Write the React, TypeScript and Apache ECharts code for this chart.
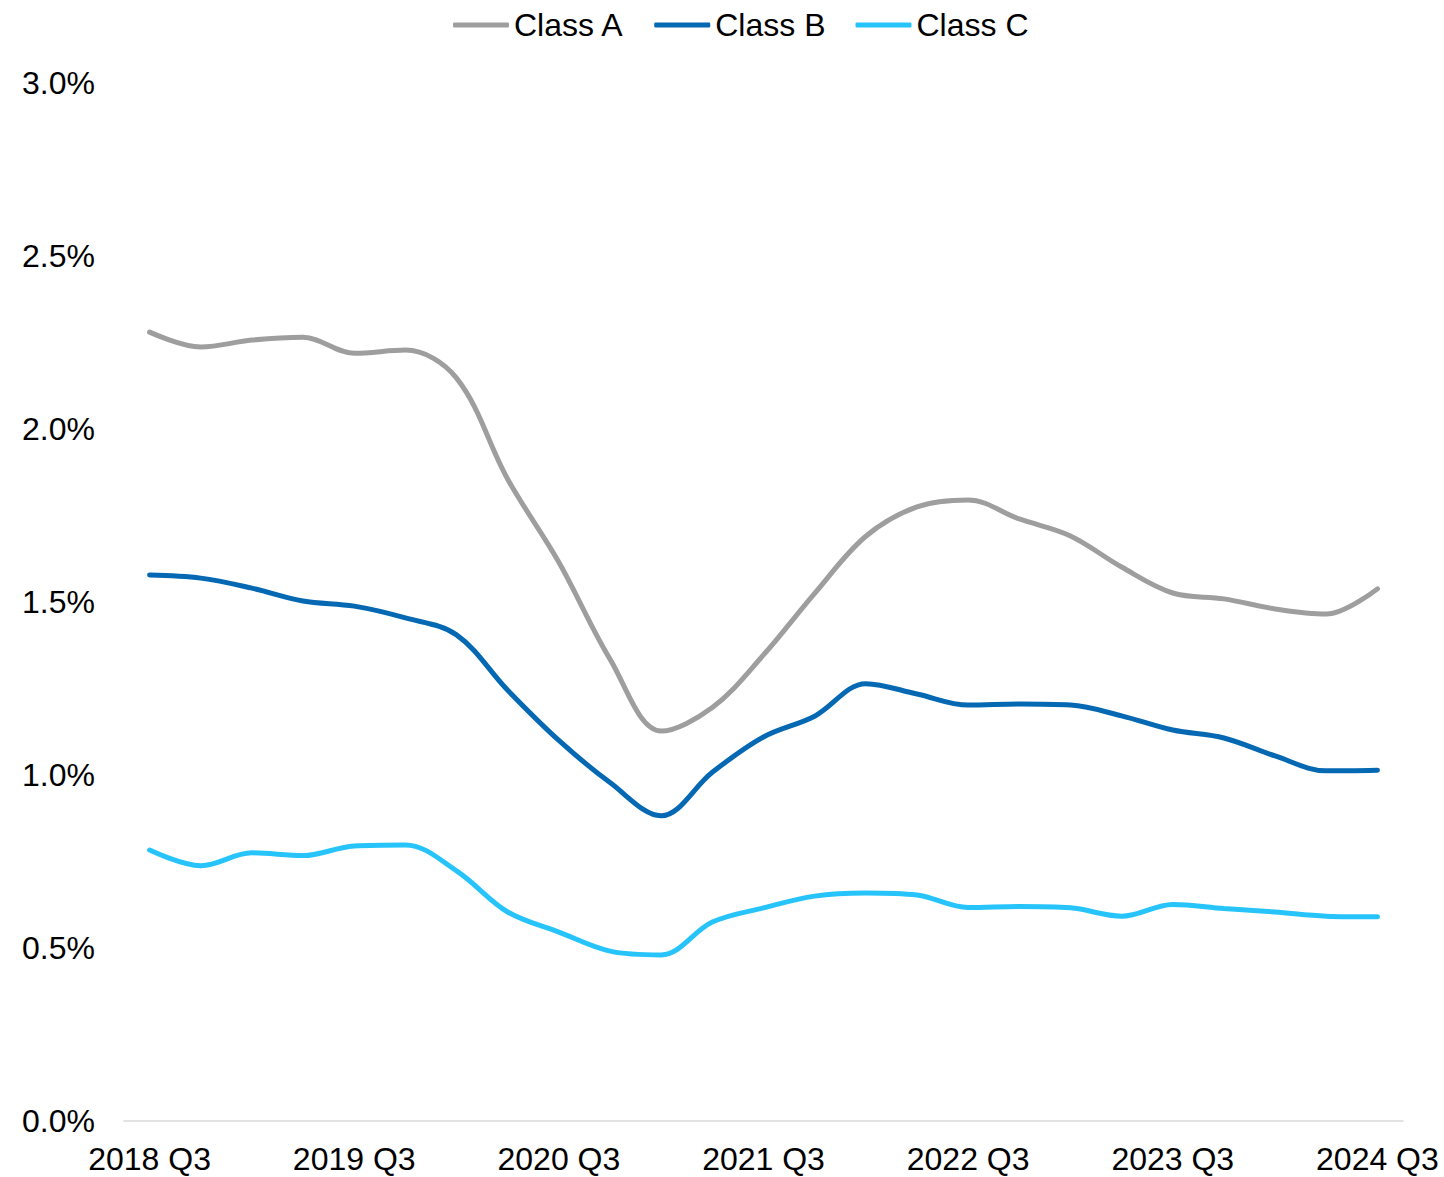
import React, { useEffect, useRef } from "react";
import * as echarts from "echarts";

const categories = [
  "2018 Q3", "2018 Q4", "2019 Q1", "2019 Q2", "2019 Q3", "2019 Q4",
  "2020 Q1", "2020 Q2", "2020 Q3", "2020 Q4", "2021 Q1", "2021 Q2",
  "2021 Q3", "2021 Q4", "2022 Q1", "2022 Q2", "2022 Q3", "2022 Q4",
  "2023 Q1", "2023 Q2", "2023 Q3", "2023 Q4", "2024 Q1", "2024 Q2",
  "2024 Q3",
];

const classA = [
  2.28, 2.237, 2.257, 2.265, 2.219, 2.228, 2.147, 1.855, 1.615, 1.335, 1.127,
  1.195, 1.347, 1.525, 1.69, 1.775, 1.795, 1.74, 1.691, 1.601, 1.526, 1.509,
  1.48, 1.465, 1.538,
];

const classB = [
  1.578, 1.569, 1.54, 1.503, 1.488, 1.454, 1.405, 1.245, 1.1, 0.978, 0.882,
  1.008, 1.11, 1.17, 1.264, 1.234, 1.202, 1.205, 1.202, 1.171, 1.13, 1.107,
  1.055, 1.012, 1.014,
];

const classC = [
  0.783, 0.738, 0.775, 0.767, 0.795, 0.798, 0.723, 0.604, 0.546, 0.491, 0.48,
  0.575, 0.616, 0.65, 0.659, 0.653, 0.617, 0.62, 0.616, 0.592, 0.626, 0.614,
  0.604, 0.592, 0.59,
];

const seriesNames = ["Class A", "Class B", "Class C"];
const seriesColors = ["#9E9E9E", "#0568B3", "#27C4FB"];

const FONT = "'Liberation Sans', Arial, sans-serif";

export default function App() {
  const ref = useRef<HTMLDivElement>(null);

  useEffect(() => {
    document.body.style.margin = "0";
    if (!ref.current) return;
    const chart = echarts.init(ref.current, null, { renderer: "svg" });
    const values = [classA, classB, classC];
    chart.setOption({
      animation: false,
      backgroundColor: "#ffffff",
      textStyle: { fontFamily: FONT },
      legend: {
        left: 448,
        top: 4,
        icon: "roundRect",
        itemWidth: 56,
        itemHeight: 5,
        itemGap: 30,
        textStyle: { fontSize: 32, color: "#000000", fontFamily: FONT },
        data: seriesNames,
      },
      grid: {
        left: 124,
        right: 41,
        top: 83,
        bottom: 56,
        containLabel: false,
      },
      xAxis: {
        type: "category",
        data: categories,
        boundaryGap: true,
        axisLine: { show: true, lineStyle: { color: "#D9D9D9", width: 1.5 } },
        axisTick: { show: false },
        axisLabel: {
          interval: 3,
          fontSize: 32,
          color: "#000000",
          margin: 22,
          fontFamily: FONT,
        },
        splitLine: { show: false },
      },
      yAxis: {
        type: "value",
        min: 0,
        max: 3,
        interval: 0.5,
        axisLine: { show: false },
        axisTick: { show: false },
        splitLine: { show: false },
        axisLabel: {
          fontSize: 32,
          color: "#000000",
          margin: 29,
          fontFamily: FONT,
          formatter: (v: number) => v.toFixed(1) + "%",
        },
      },
      series: seriesNames.map((name, i) => ({
        name,
        type: "line",
        data: values[i],
        smooth: 0.35,
        symbol: "none",
        lineStyle: { color: seriesColors[i], width: 5, cap: "round" },
        itemStyle: { color: seriesColors[i] },
      })),
    });
    return () => chart.dispose();
  }, []);

  return <div ref={ref} style={{ width: 1444, height: 1177 }} />;
}
